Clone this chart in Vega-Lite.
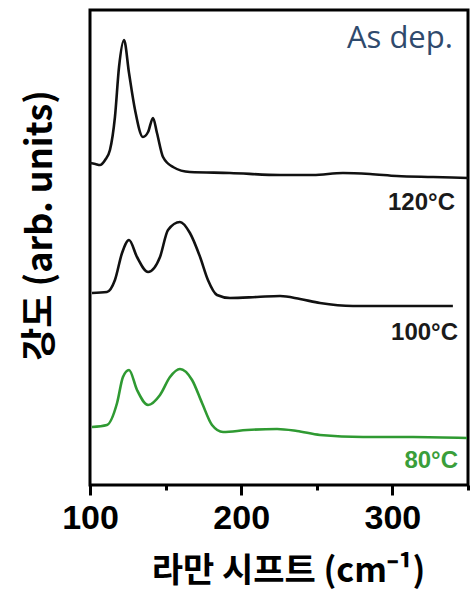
{
  "$schema": "https://vega.github.io/schema/vega-lite/v6.json",
  "width": 378,
  "height": 475,
  "autosize": "none",
  "padding": {"left": 90, "top": 10, "right": 4, "bottom": 114},
  "background": "white",
  "config": {
    "view": {"stroke": "black", "strokeWidth": 3},
    "axis": {"grid": false}
  },
  "datasets": {
    "curves": [
      {"series": "asdep", "shift": 100, "intensity": 322},
      {"series": "asdep", "shift": 103.5, "intensity": 321},
      {"series": "asdep", "shift": 106.6, "intensity": 320},
      {"series": "asdep", "shift": 110, "intensity": 325},
      {"series": "asdep", "shift": 113.2, "intensity": 335},
      {"series": "asdep", "shift": 116.5, "intensity": 368},
      {"series": "asdep", "shift": 119.2, "intensity": 418},
      {"series": "asdep", "shift": 122.5, "intensity": 445},
      {"series": "asdep", "shift": 125.8, "intensity": 412},
      {"series": "asdep", "shift": 129.8, "intensity": 375},
      {"series": "asdep", "shift": 135, "intensity": 348},
      {"series": "asdep", "shift": 138.4, "intensity": 353},
      {"series": "asdep", "shift": 141.7, "intensity": 367},
      {"series": "asdep", "shift": 144.3, "intensity": 352},
      {"series": "asdep", "shift": 148.3, "intensity": 328},
      {"series": "asdep", "shift": 154.9, "intensity": 318},
      {"series": "asdep", "shift": 166.1, "intensity": 313},
      {"series": "asdep", "shift": 192.6, "intensity": 312},
      {"series": "asdep", "shift": 225.7, "intensity": 310},
      {"series": "asdep", "shift": 247.5, "intensity": 310},
      {"series": "asdep", "shift": 267.3, "intensity": 312},
      {"series": "asdep", "shift": 285.2, "intensity": 311},
      {"series": "asdep", "shift": 303, "intensity": 309},
      {"series": "asdep", "shift": 326.9, "intensity": 308},
      {"series": "asdep", "shift": 350, "intensity": 307},
      {"series": "t120", "shift": 101.3, "intensity": 192},
      {"series": "t120", "shift": 111.2, "intensity": 193},
      {"series": "t120", "shift": 116.5, "intensity": 205},
      {"series": "t120", "shift": 121.2, "intensity": 232},
      {"series": "t120", "shift": 125.8, "intensity": 245},
      {"series": "t120", "shift": 131.1, "intensity": 228},
      {"series": "t120", "shift": 138.4, "intensity": 213},
      {"series": "t120", "shift": 146.3, "intensity": 228},
      {"series": "t120", "shift": 151.6, "intensity": 255},
      {"series": "t120", "shift": 159.5, "intensity": 263},
      {"series": "t120", "shift": 166.1, "intensity": 252},
      {"series": "t120", "shift": 172.8, "intensity": 228},
      {"series": "t120", "shift": 178, "intensity": 205},
      {"series": "t120", "shift": 184, "intensity": 190},
      {"series": "t120", "shift": 192.6, "intensity": 187},
      {"series": "t120", "shift": 210.4, "intensity": 188},
      {"series": "t120", "shift": 225.7, "intensity": 189},
      {"series": "t120", "shift": 238.9, "intensity": 186},
      {"series": "t120", "shift": 252.1, "intensity": 182},
      {"series": "t120", "shift": 273.9, "intensity": 179},
      {"series": "t120", "shift": 303, "intensity": 179},
      {"series": "t120", "shift": 340, "intensity": 179},
      {"series": "t80", "shift": 101.3, "intensity": 58},
      {"series": "t80", "shift": 111.2, "intensity": 60},
      {"series": "t80", "shift": 117.9, "intensity": 82},
      {"series": "t80", "shift": 121.8, "intensity": 108},
      {"series": "t80", "shift": 125.8, "intensity": 115},
      {"series": "t80", "shift": 131.1, "intensity": 95},
      {"series": "t80", "shift": 138.4, "intensity": 80},
      {"series": "t80", "shift": 146.3, "intensity": 90},
      {"series": "t80", "shift": 152.9, "intensity": 108},
      {"series": "t80", "shift": 159.5, "intensity": 116},
      {"series": "t80", "shift": 167.5, "intensity": 105},
      {"series": "t80", "shift": 174.1, "intensity": 82},
      {"series": "t80", "shift": 180.7, "intensity": 60},
      {"series": "t80", "shift": 188, "intensity": 53},
      {"series": "t80", "shift": 203.8, "intensity": 55},
      {"series": "t80", "shift": 223.7, "intensity": 56},
      {"series": "t80", "shift": 236.9, "intensity": 54},
      {"series": "t80", "shift": 252.1, "intensity": 50},
      {"series": "t80", "shift": 280.6, "intensity": 48},
      {"series": "t80", "shift": 313.6, "intensity": 48},
      {"series": "t80", "shift": 349.3, "intensity": 47}
    ],
    "labels": [
      {"text": "120°C", "shift": 341.4, "intensity": 275, "kind": "black"},
      {"text": "100°C", "shift": 343.4, "intensity": 145, "kind": "black"},
      {"text": "80°C", "shift": 343.4, "intensity": 17, "kind": "green"}
    ],
    "title": [
      {"text": "As dep.", "shift": 340, "intensity": 437}
    ]
  },
  "layer": [
    {
      "data": {"name": "curves"},
      "mark": {"type": "line", "interpolate": "monotone", "strokeWidth": 2.6, "clip": true},
      "encoding": {
        "x": {
          "field": "shift", "type": "quantitative",
          "scale": {"domain": [100, 350], "nice": false, "zero": false},
          "axis": {
            "values": [100, 150, 200, 250, 300, 350],
            "domain": false,
            "tickColor": "black",
            "tickWidth": 3,
            "tickSize": {"condition": {"test": "datum.value % 100 === 0", "value": 10}, "value": 5},
            "labelExpr": "datum.value % 100 === 0 && datum.value < 350 ? datum.label : ''",
            "labelFont": "Liberation Sans",
            "labelFontWeight": "bold",
            "labelFontSize": 34,
            "labelColor": "black",
            "labelPadding": 6,
            "labelFlush": false,
            "labelOverlap": false,
            "title": "라만 시프트  (cm⁻¹)",
            "titleFont": "Noto Sans CJK KR",
            "titleFontWeight": "bold",
            "titleFontSize": 34,
            "titleColor": "black",
            "titleX": 198,
            "titleY": 86,
            "titleAlign": "center",
            "titleBaseline": "middle"
          }
        },
        "y": {
          "field": "intensity", "type": "quantitative",
          "scale": {"domain": [0, 475], "nice": false},
          "axis": {
            "ticks": false, "labels": false, "domain": false,
            "title": "강도  (arb. units)",
            "titleFont": "Noto Sans CJK KR",
            "titleFontWeight": "bold",
            "titleFontSize": 36,
            "titleColor": "black",
            "titleAngle": -90,
            "titleX": -50,
            "titleY": 215,
            "titleAlign": "center",
            "titleBaseline": "middle"
          }
        },
        "detail": {"field": "series"},
        "color": {
          "field": "series", "type": "nominal",
          "scale": {"domain": ["asdep", "t120", "t80"], "range": ["#111111", "#111111", "#2f9a32"]},
          "legend": null
        }
      }
    },
    {
      "data": {"name": "labels"},
      "mark": {"type": "text", "align": "right", "baseline": "alphabetic", "font": "Liberation Sans", "fontWeight": "bold", "fontSize": 24},
      "encoding": {
        "x": {"field": "shift", "type": "quantitative"},
        "y": {"field": "intensity", "type": "quantitative"},
        "text": {"field": "text"},
        "color": {
          "field": "kind", "type": "nominal",
          "scale": {"domain": ["black", "green"], "range": ["#1a1a1a", "#3a9e3a"]},
          "legend": null
        }
      }
    },
    {
      "data": {"name": "title"},
      "mark": {"type": "text", "align": "right", "baseline": "alphabetic", "font": "Open Sans", "fontWeight": "normal", "fontSize": 31, "color": "#2f4a6d"},
      "encoding": {
        "x": {"field": "shift", "type": "quantitative"},
        "y": {"field": "intensity", "type": "quantitative"},
        "text": {"field": "text"}
      }
    }
  ],
  "resolve": {"scale": {"color": "independent"}}
}
